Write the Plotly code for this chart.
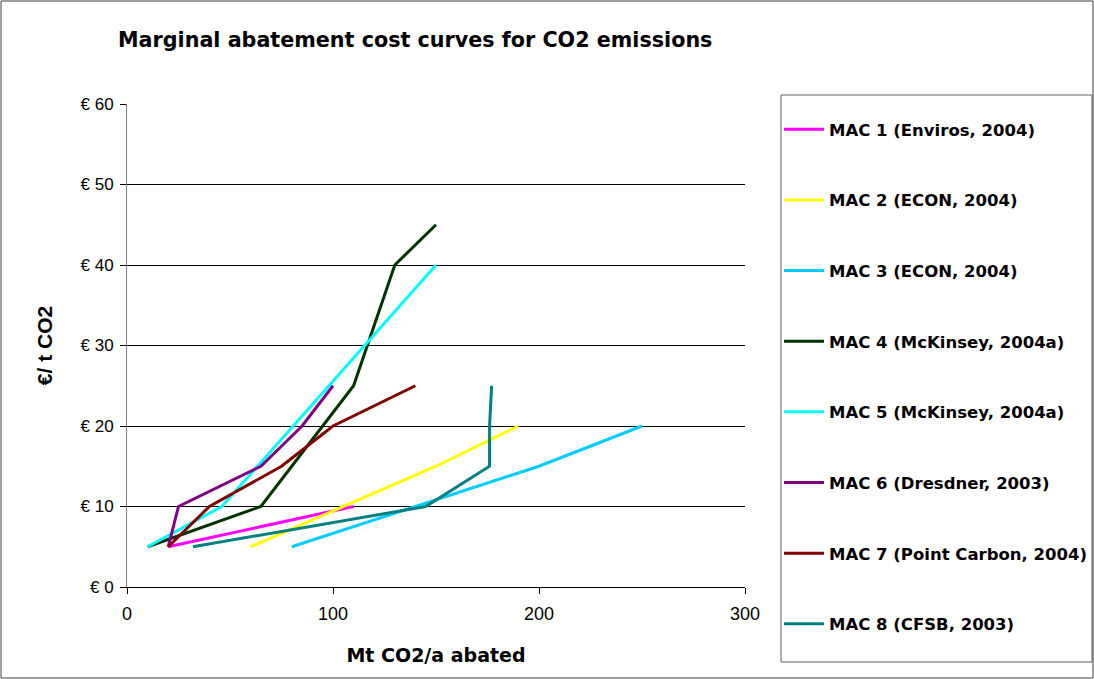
import plotly.graph_objects as go

# Marginal abatement cost curves: abatement (Mt CO2/a) vs cost (EUR / t CO2)
series_names = [
    "MAC 1 (Enviros, 2004)",
    "MAC 2 (ECON, 2004)",
    "MAC 3 (ECON, 2004)",
    "MAC 4 (McKinsey, 2004a)",
    "MAC 5 (McKinsey, 2004a)",
    "MAC 6 (Dresdner, 2003)",
    "MAC 7 (Point Carbon, 2004)",
    "MAC 8 (CFSB, 2003)",
]

mac1_x = [20, 110]
mac1_y = [5, 10]

mac2_x = [60, 150, 190]
mac2_y = [5, 15, 20]

mac3_x = [80, 200, 250]
mac3_y = [5, 15, 20]

mac4_x = [10, 65, 110, 130, 150]
mac4_y = [5, 10, 25, 40, 45]

mac5_x = [10, 46, 150]
mac5_y = [5, 10, 40]

mac6_x = [20, 25, 65, 85, 100]
mac6_y = [5, 10, 15, 20, 25]

mac7_x = [20, 40, 75, 100, 140]
mac7_y = [5, 10, 15, 20, 25]

mac8_x = [32, 145, 176, 176, 177]
mac8_y = [5, 10, 15, 20, 25]

series_x = [mac1_x, mac2_x, mac3_x, mac4_x, mac5_x, mac6_x, mac7_x, mac8_x]
series_y = [mac1_y, mac2_y, mac3_y, mac4_y, mac5_y, mac6_y, mac7_y, mac8_y]
colors = ["#FF00FF", "#FFFF00", "#00CCFF", "#003300",
          "#00FFFF", "#800080", "#800000", "#008080"]

x_ticks = [0, 100, 200, 300]
y_ticks = [0, 10, 20, 30, 40, 50, 60]
y_tick_labels = ["€ 0", "€ 10", "€ 20", "€ 30", "€ 40", "€ 50", "€ 60"]

W, H = 1094, 679
L, R, T, B = 127, 745, 104, 587  # plot area in pixels
pw, ph = R - L, B - T


def px_x(p):
    return (p - L) / pw


def px_y(p):
    return (B - p) / ph


fig = go.Figure()
for i, (name, xs, ys, c) in enumerate(zip(series_names, series_x, series_y, colors)):
    fig.add_trace(go.Scatter(
        x=xs, y=ys, mode="lines", name=f"<b>{name}</b>",
        line=dict(color=c, width=3),
        legendgroup=f"g{i}",
    ))

font_family = "Liberation Sans, Arial, sans-serif"
wide_family = "DejaVu Sans, Verdana, sans-serif"

fig.update_layout(
    width=W, height=H,
    margin=dict(l=L, r=W - R, t=T, b=H - B),
    paper_bgcolor="white",
    plot_bgcolor="white",
    font=dict(family=font_family, color="black", size=16),
    title=dict(
        text="<b>Marginal abatement cost curves for CO2 emissions</b>",
        font=dict(size=20.7, family=wide_family, color="black"),
        xref="container", yref="container",
        x=118 / W, xanchor="left",
        y=1 - 40 / H, yanchor="middle",
    ),
    xaxis=dict(
        range=[0, 300], tickvals=x_ticks,
        showgrid=False, zeroline=False,
        showline=True, linecolor="black", linewidth=1,
        ticks="outside", ticklen=6, tickcolor="black",
        tickfont=dict(size=18),
        ticklabelstandoff=4,
        title=dict(text="<b>Mt CO2/a abated</b>",
                   font=dict(size=19, family=wide_family), standoff=26),
    ),
    yaxis=dict(
        range=[0, 60], tickvals=y_ticks, ticktext=y_tick_labels,
        showgrid=True, gridcolor="black", gridwidth=1,
        zeroline=False,
        showline=True, linecolor="#808080", linewidth=1,
        ticks="outside", ticklen=6, tickcolor="black",
        tickfont=dict(size=17),
        ticklabelstandoff=3,
        title=dict(text="<b>€/ t CO2</b>", font=dict(size=21), standoff=22),
    ),
    legend=dict(
        xref="container", yref="container",
        x=779 / W, xanchor="left",
        y=1 - 112 / H, yanchor="top",
        bgcolor="rgba(0,0,0,0)",
        borderwidth=0,
        font=dict(size=16.5, family=wide_family, color="black"),
        tracegroupgap=46.2,
        itemwidth=40,
        traceorder="grouped",
        maxheight=620,
    ),
    showlegend=True,
    shapes=[
        # legend frame
        dict(type="rect", xref="paper", yref="paper",
             x0=px_x(781), x1=px_x(1092), y0=px_y(662), y1=px_y(95),
             line=dict(color="#606060", width=1), fillcolor="rgba(0,0,0,0)",
             layer="above"),
        # outer chart frame
        dict(type="rect", xref="paper", yref="paper",
             x0=px_x(1), x1=px_x(1093), y0=px_y(678), y1=px_y(1),
             line=dict(color="#404040", width=1), fillcolor="rgba(0,0,0,0)",
             layer="above"),
    ],
)

fig.write_html("out.html")
